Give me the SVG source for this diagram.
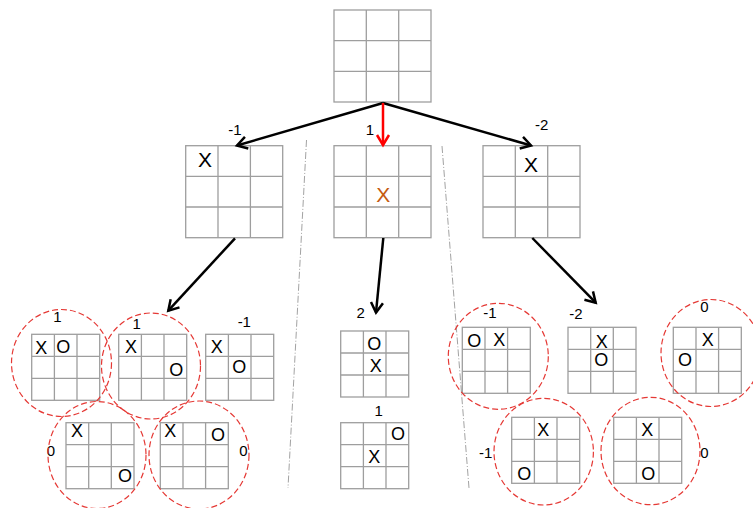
<svg xmlns="http://www.w3.org/2000/svg" xmlns:xlink="http://www.w3.org/1999/xlink" width="753" height="508" viewBox="0 0 753 508">
<style>
.g{fill:#fff;stroke:#9e9e9e;stroke-width:1.3}
.gl{fill:none;stroke:#9e9e9e;stroke-width:1.3}
.m{font-family:"Liberation Sans",Arial,sans-serif;font-size:18px;fill:#000;text-anchor:middle}
.M{font-family:"Liberation Sans",Arial,sans-serif;font-size:21px;fill:#000;text-anchor:middle}
.lb{font-family:"Liberation Sans",Arial,sans-serif;font-size:15px;fill:#000;text-anchor:middle}
.c{fill:none;stroke:#e53935;stroke-width:1.2;stroke-dasharray:6 3}
.dv{fill:none;stroke:#8a8a8a;stroke-width:0.8;stroke-dasharray:7 2 1 2}
.ar{fill:none;stroke:#000;stroke-width:2.5;marker-end:url(#ah)}
.ar2{fill:none;stroke:#f00;stroke-width:2.5;marker-end:url(#ahr)}
</style>
<defs>
<marker id="ah" markerUnits="userSpaceOnUse" markerWidth="14" markerHeight="16" refX="11" refY="7" orient="auto" viewBox="0 0 14 14"><path d="M1,1 L11,7 L1,13" fill="none" stroke="#000" stroke-width="2.5"/></marker>
<marker id="ahr" markerUnits="userSpaceOnUse" markerWidth="14" markerHeight="16" refX="11" refY="7" orient="auto" viewBox="0 0 14 14"><path d="M1,1 L11,7 L1,13" fill="none" stroke="#f00" stroke-width="2.5"/></marker>
<g id="big"><rect class="g" x="0" y="0" width="97" height="92"/><path class="gl" d="M32.3,0V92M64.7,0V92M0,30.7H97M0,61.3H97"/></g>
<g id="small"><rect class="g" x="0" y="0" width="68" height="66"/><path class="gl" d="M22.7,0V66M45.3,0V66M0,22H68M0,44H68"/></g>
</defs>

<g id="dividers">
<line class="dv" x1="306.5" y1="140" x2="288" y2="488"/>
<line class="dv" x1="442" y1="146" x2="469" y2="488"/>
</g>

<g id="root"><use xlink:href="#big" x="334" y="10"/></g>

<g id="n-left">
<use xlink:href="#big" x="185.7" y="145.7"/>
<text class="M" x="205" y="166.5">X</text>
<text class="lb" x="235" y="135.3">-1</text>
</g>
<g id="n-mid">
<use xlink:href="#big" x="334" y="145.7"/>
<text class="M" x="383.3" y="201.8" style="fill:#c55a11">X</text>
<text class="lb" x="370" y="135.3">1</text>
</g>
<g id="n-right">
<use xlink:href="#big" x="483" y="145.7"/>
<text class="M" x="531" y="171.5">X</text>
<text class="lb" x="541.7" y="130.3">-2</text>
</g>

<g id="n-a">
<use xlink:href="#small" x="31.7" y="334.3"/>
<text class="m" x="41.3" y="354">X</text><text class="m" x="63.3" y="353">O</text>
<text class="lb" x="57.3" y="322">1</text>
<ellipse class="c" cx="61.5" cy="363" rx="50" ry="53.5"/>
</g>
<g id="n-b">
<use xlink:href="#small" x="118.7" y="334.3"/>
<text class="m" x="131" y="353">X</text><text class="m" x="176.3" y="375.7">O</text>
<text class="lb" x="136.7" y="328.6">1</text>
<ellipse class="c" cx="151" cy="366" rx="49.5" ry="53"/>
</g>
<g id="n-c">
<use xlink:href="#small" x="205.7" y="334.3"/>
<text class="m" x="216.7" y="353">X</text><text class="m" x="239.3" y="373">O</text>
<text class="lb" x="244.3" y="327">-1</text>
</g>
<g id="n-d">
<use xlink:href="#small" x="66" y="422.7"/>
<text class="m" x="77" y="437.4">X</text><text class="m" x="125" y="482.4">O</text>
<text class="lb" x="51" y="456">0</text>
<ellipse class="c" cx="97" cy="455" rx="49" ry="53.5"/>
</g>
<g id="n-e">
<use xlink:href="#small" x="160.3" y="422.7"/>
<text class="m" x="170.3" y="437.4">X</text><text class="m" x="218" y="440.7">O</text>
<text class="lb" x="243.3" y="456">0</text>
<ellipse class="c" cx="199" cy="455" rx="50" ry="54"/>
</g>

<g id="n-f">
<use xlink:href="#small" x="340.7" y="331"/>
<text class="m" x="374.3" y="349.7">O</text><text class="m" x="375.7" y="372">X</text>
<text class="lb" x="360.7" y="318">2</text>
</g>
<g id="n-g">
<use xlink:href="#small" x="340.7" y="422.7"/>
<text class="m" x="398" y="440.4">O</text><text class="m" x="374.3" y="462.7">X</text>
<text class="lb" x="378.7" y="416.3">1</text>
</g>

<g id="n-h">
<use xlink:href="#small" x="462.3" y="327.3"/>
<text class="m" x="474.3" y="347.4">O</text><text class="m" x="499.3" y="346.4">X</text>
<text class="lb" x="490" y="318">-1</text>
<ellipse class="c" cx="498.3" cy="356.3" rx="50" ry="53"/>
</g>
<g id="n-i">
<use xlink:href="#small" x="568" y="327.3"/>
<text class="m" x="601.7" y="348">X</text><text class="m" x="601.3" y="366.4">O</text>
<text class="lb" x="576" y="318.6">-2</text>
</g>
<g id="n-j">
<use xlink:href="#small" x="673.3" y="327.3"/>
<text class="m" x="707.7" y="346.4">X</text><text class="m" x="685" y="366.4">O</text>
<text class="lb" x="704.3" y="312">0</text>
<ellipse class="c" cx="711" cy="353" rx="50" ry="53.5"/>
</g>
<g id="n-k">
<use xlink:href="#small" x="511.7" y="417.3"/>
<text class="m" x="543.3" y="435.7">X</text><text class="m" x="524.3" y="479.7">O</text>
<text class="lb" x="485.7" y="458">-1</text>
<ellipse class="c" cx="543.7" cy="451.7" rx="49.7" ry="53.3"/>
</g>
<g id="n-l">
<use xlink:href="#small" x="613.7" y="417.3"/>
<text class="m" x="647.3" y="435.7">X</text><text class="m" x="648.3" y="479.7">O</text>
<text class="lb" x="704.3" y="458">0</text>
<ellipse class="c" cx="650.5" cy="451" rx="49.5" ry="53.7"/>
</g>

<g id="connectors">
<line class="ar" x1="383" y1="103" x2="237" y2="145.5"/>
<line class="ar" x1="383" y1="103" x2="531" y2="145.5"/>
<line class="ar2" x1="383" y1="103" x2="383" y2="145"/>
<line class="ar" x1="235" y1="238.3" x2="168.3" y2="310.7"/>
<line class="ar" x1="383.3" y1="238" x2="376" y2="312.5"/>
<line class="ar" x1="532.3" y1="238" x2="595.7" y2="302.7"/>
</g>
</svg>
